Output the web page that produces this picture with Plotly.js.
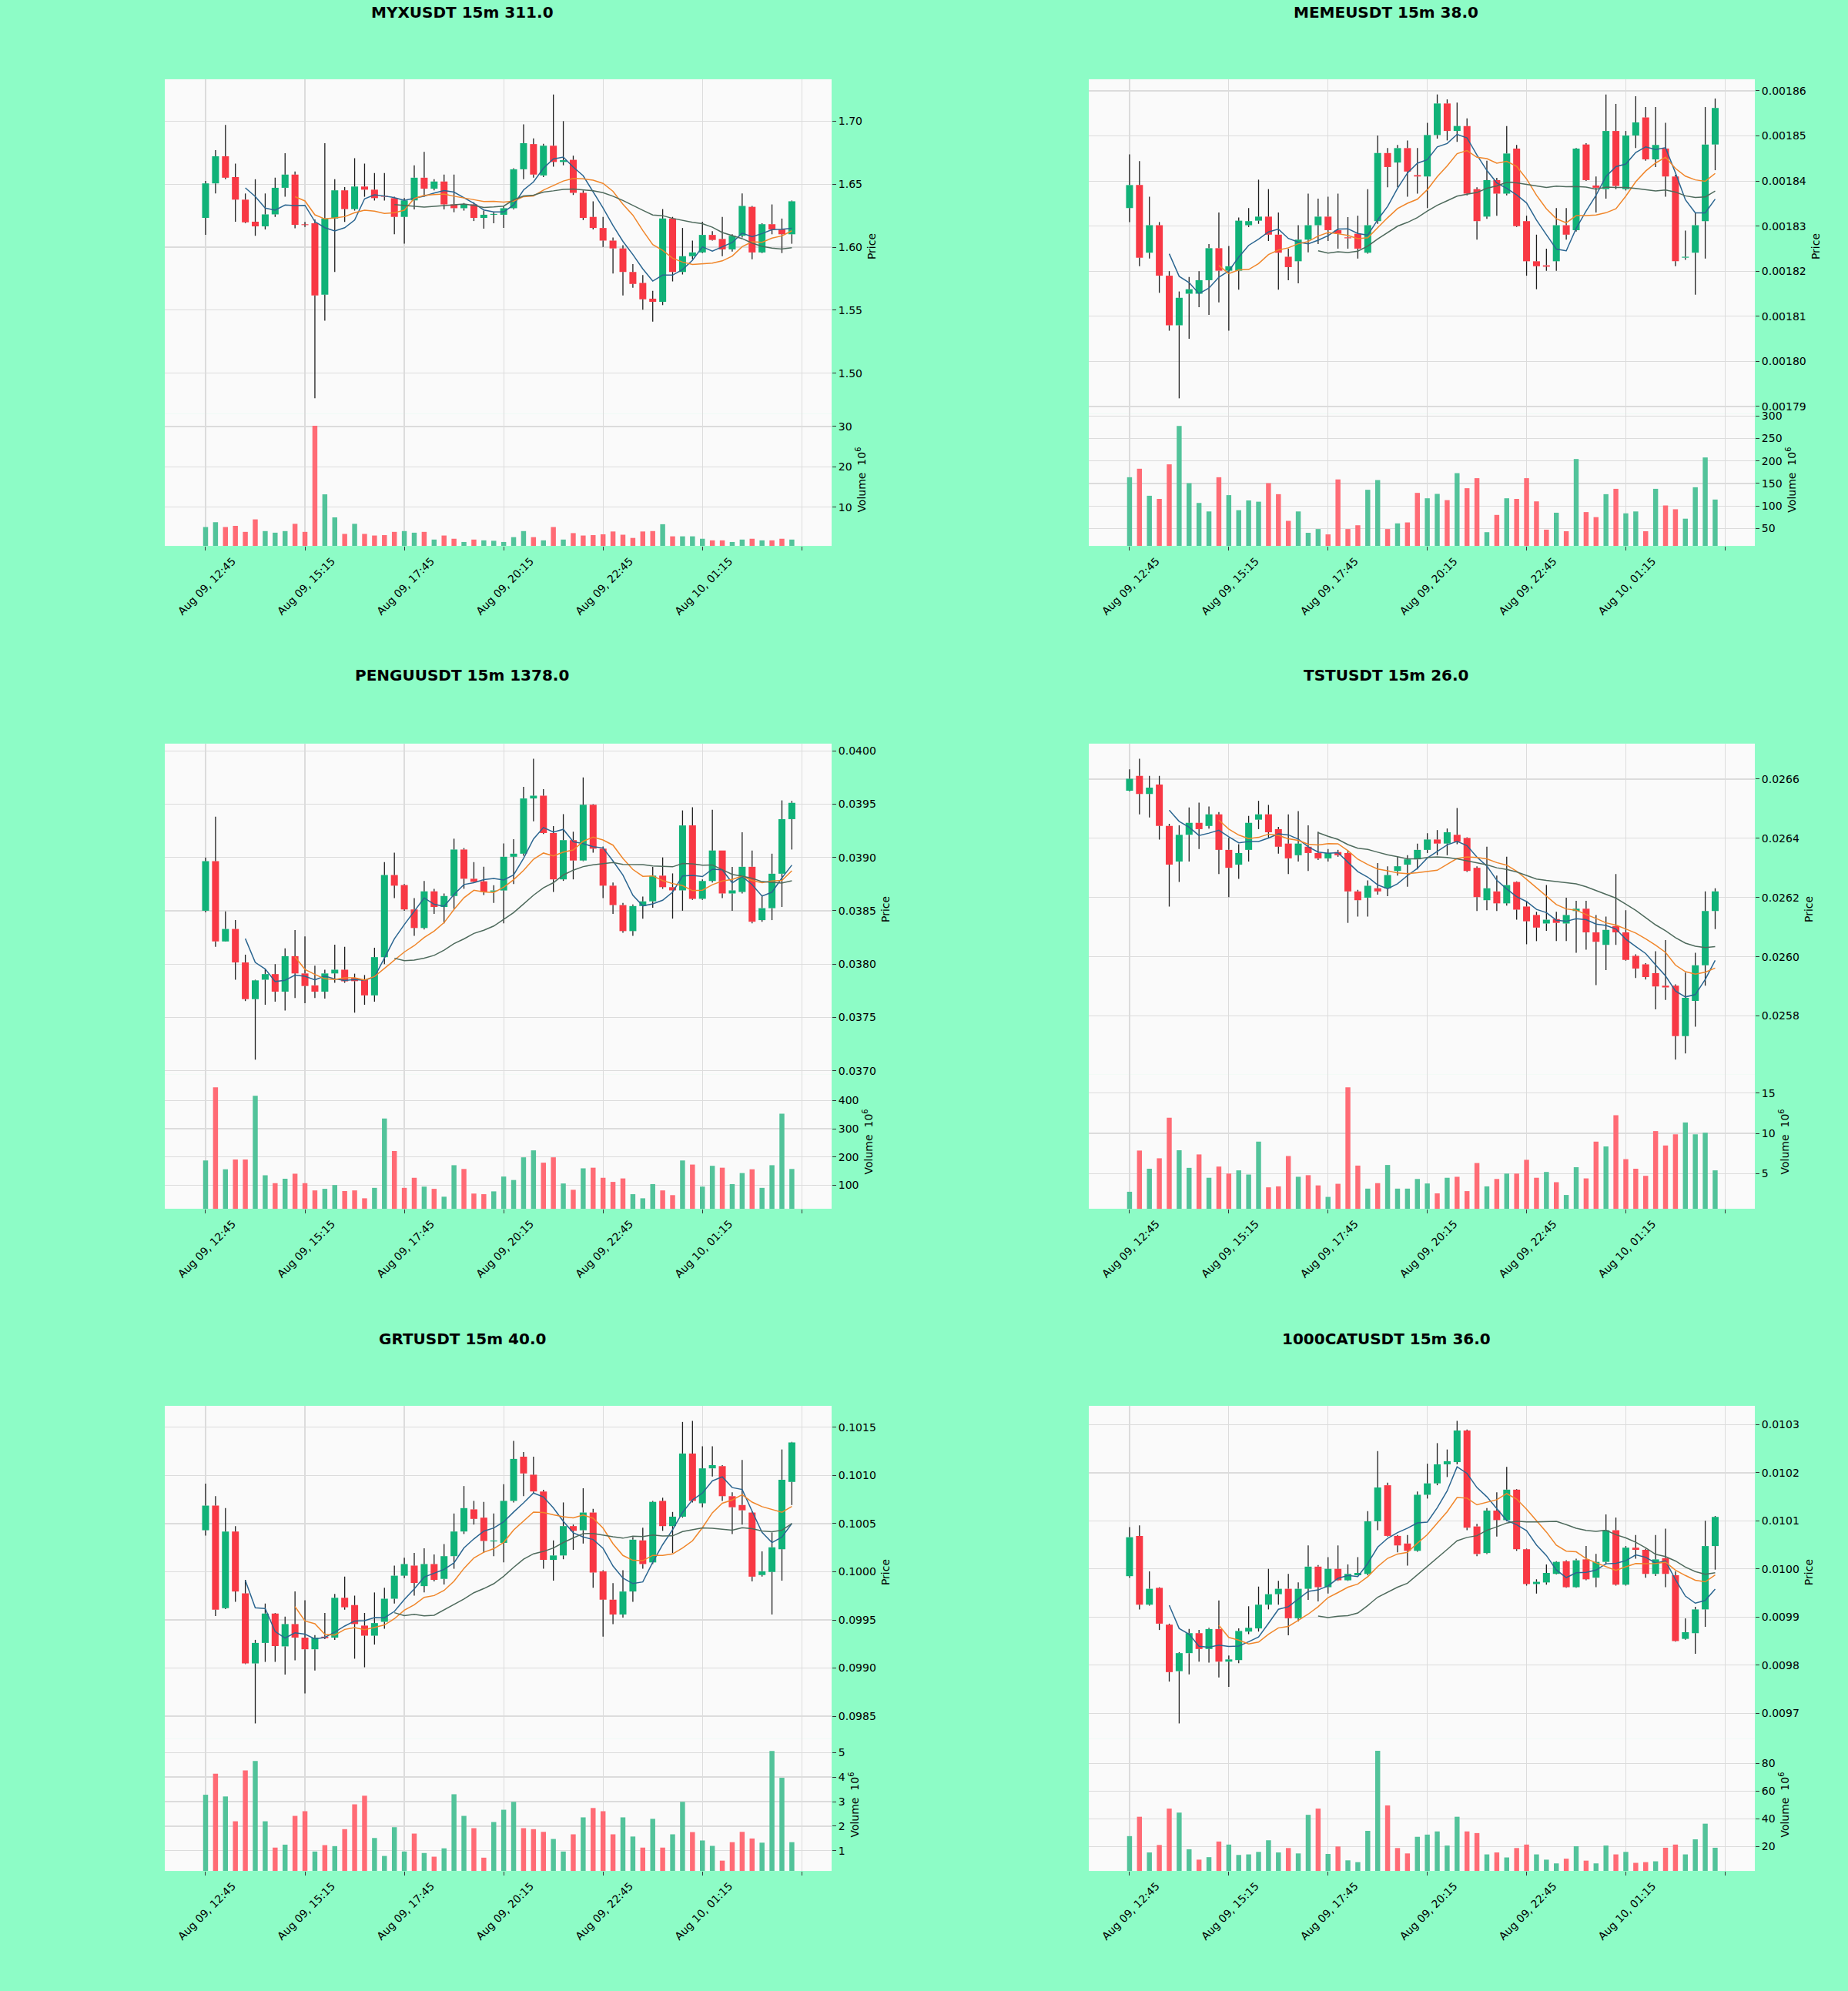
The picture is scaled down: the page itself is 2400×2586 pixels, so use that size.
<!DOCTYPE html>
<html>
<head>
<meta charset="utf-8">
<script src="https://cdn.plot.ly/plotly-3.0.1.min.js"></script>
<style>
html,body{margin:0;padding:0;background:#8dfcc6;}
#chart{width:2400px;height:2586px;}
</style>
</head>
<body>
<div id="chart"></div>
<script>
// ---------- shared x-axis data ----------
const tickLabels = ['Aug 09, 12:45','Aug 09, 15:15','Aug 09, 17:45','Aug 09, 20:15','Aug 09, 22:45','Aug 10, 01:15'];
const tickIndex = [0,10,20,30,40,50];
const extraTickIndex = [60];
const maPeriods = [5,10,20];

// ---------- MYXUSDT ----------
const myxTitle = 'MYXUSDT 15m 311.0';
const myxOpen = [1.6232,1.6506,1.6721,1.6556,1.6377,1.6202,1.6165,1.6260,1.6471,1.6576,
1.6180,1.6190,1.5623,1.6227,1.6451,1.6302,1.6481,1.6456,1.6405,1.6389,
1.6240,1.6371,1.6551,1.6464,1.6521,1.6339,1.6309,1.6339,1.6232,1.6257,
1.6257,1.6309,1.6618,1.6818,1.6569,1.6805,1.6676,1.6693,1.6431,1.6240,
1.6152,1.6052,1.5990,1.5803,1.5716,1.5591,1.5566,1.6227,1.5803,1.5928,
1.5958,1.6097,1.6065,1.5982,1.6090,1.6320,1.5958,1.6182,1.6140,1.6102];
const myxHigh = [1.6526,1.6770,1.6970,1.6663,1.6426,1.6539,1.6426,1.6551,1.6746,1.6600,
1.6200,1.6220,1.6825,1.6539,1.6476,1.6706,1.6663,1.6588,1.6588,1.6400,
1.6390,1.6650,1.6756,1.6539,1.6576,1.6576,1.6350,1.6356,1.6290,1.6277,
1.6330,1.6626,1.6975,1.6863,1.6820,1.7212,1.7000,1.6726,1.6450,1.6364,
1.6240,1.6077,1.6015,1.5865,1.5778,1.5653,1.6302,1.6240,1.6152,1.6052,
1.6202,1.6127,1.6240,1.6102,1.6426,1.6327,1.6190,1.6339,1.6227,1.6370];
const myxLow = [1.6097,1.6426,1.6539,1.6202,1.6190,1.6090,1.6140,1.6240,1.6400,1.6150,
1.6160,1.4800,1.5416,1.5803,1.6200,1.6290,1.6400,1.6370,1.6370,1.6102,
1.6027,1.6300,1.6400,1.6450,1.6300,1.6277,1.6290,1.6207,1.6147,1.6190,
1.6152,1.6300,1.6539,1.6551,1.6556,1.6638,1.6650,1.6414,1.6215,1.6140,
1.6002,1.5790,1.5616,1.5678,1.5504,1.5409,1.5540,1.5728,1.5783,1.5903,
1.5953,1.6052,1.5928,1.5965,1.6077,1.5903,1.5953,1.6102,1.5953,1.6027];
const myxClose = [1.6506,1.6721,1.6551,1.6377,1.6197,1.6165,1.6260,1.6471,1.6576,1.6177,
1.6175,1.5616,1.6227,1.6451,1.6302,1.6481,1.6456,1.6389,1.6400,1.6240,
1.6371,1.6551,1.6464,1.6521,1.6339,1.6309,1.6339,1.6232,1.6257,1.6260,
1.6309,1.6618,1.6825,1.6576,1.6805,1.6676,1.6690,1.6431,1.6232,1.6152,
1.6052,1.5990,1.5803,1.5708,1.5586,1.5566,1.6227,1.5803,1.5928,1.5958,
1.6097,1.6057,1.5982,1.6090,1.6327,1.5958,1.6182,1.6140,1.6102,1.6364];
const myxVolume = [5.1,6.3,5.1,5.4,3.9,7.0,4.1,3.7,4.1,5.9,
3.9,30.2,13.2,7.5,3.4,5.9,3.4,3.0,3.1,3.9,
4.1,3.7,3.9,2.0,3.0,2.2,1.4,2.0,1.8,1.7,
1.4,2.6,4.1,2.6,1.8,5.1,2.0,3.6,3.0,3.1,
3.3,4.0,3.2,2.4,4.0,4.1,5.8,2.8,2.8,2.8,
2.2,1.8,1.8,1.4,2.0,2.2,1.8,1.8,2.2,2.0];

// ---------- MEMEUSDT ----------
const memeTitle = 'MEMEUSDT 15m 38.0';
const memeOpen = [0.0018340,0.0018391,0.0018241,0.0018302,0.0018190,0.0018080,0.0018150,0.0018150,0.0018180,0.0018251,
0.0018201,0.0018201,0.0018302,0.0018312,0.0018321,0.0018281,0.0018232,0.0018222,0.0018270,0.0018302,
0.0018321,0.0018291,0.0018275,0.0018283,0.0018241,0.0018311,0.0018462,0.0018441,0.0018473,0.0018413,
0.0018410,0.0018502,0.0018572,0.0018511,0.0018522,0.0018382,0.0018321,0.0018402,0.0018372,0.0018472,
0.0018311,0.0018222,0.0018213,0.0018222,0.0018302,0.0018291,0.0018481,0.0018390,0.0018382,0.0018511,
0.0018382,0.0018501,0.0018541,0.0018448,0.0018472,0.0018410,0.0018230,0.0018241,0.0018311,0.0018481];
const memeHigh = [0.0018459,0.0018444,0.0018365,0.0018309,0.0018200,0.0018155,0.0018187,0.0018200,0.0018260,0.0018330,
0.0018256,0.0018319,0.0018340,0.0018403,0.0018382,0.0018330,0.0018250,0.0018302,0.0018372,0.0018361,
0.0018365,0.0018372,0.0018320,0.0018323,0.0018382,0.0018501,0.0018473,0.0018480,0.0018490,0.0018473,
0.0018529,0.0018592,0.0018581,0.0018574,0.0018539,0.0018386,0.0018445,0.0018407,0.0018522,0.0018480,
0.0018323,0.0018281,0.0018250,0.0018340,0.0018340,0.0018473,0.0018484,0.0018410,0.0018592,0.0018571,
0.0018511,0.0018588,0.0018564,0.0018564,0.0018529,0.0018414,0.0018290,0.0018330,0.0018564,0.0018583];
const memeLow = [0.0018309,0.0018211,0.0018228,0.0018152,0.0018068,0.0017918,0.0018050,0.0018120,0.0018103,0.0018131,
0.0018068,0.0018159,0.0018298,0.0018305,0.0018267,0.0018159,0.0018180,0.0018173,0.0018242,0.0018260,
0.0018267,0.0018250,0.0018250,0.0018228,0.0018239,0.0018305,0.0018386,0.0018386,0.0018365,0.0018372,
0.0018340,0.0018494,0.0018490,0.0018487,0.0018368,0.0018270,0.0018316,0.0018323,0.0018368,0.0018298,
0.0018190,0.0018160,0.0018201,0.0018201,0.0018270,0.0018288,0.0018400,0.0018330,0.0018361,0.0018382,
0.0018379,0.0018473,0.0018445,0.0018431,0.0018365,0.0018211,0.0018225,0.0018148,0.0018228,0.0018424];
const memeClose = [0.0018391,0.0018230,0.0018302,0.0018190,0.0018080,0.0018141,0.0018160,0.0018180,0.0018251,0.0018201,
0.0018211,0.0018312,0.0018311,0.0018321,0.0018281,0.0018241,0.0018209,0.0018270,0.0018302,0.0018321,
0.0018291,0.0018283,0.0018273,0.0018250,0.0018302,0.0018462,0.0018431,0.0018473,0.0018421,0.0018410,
0.0018502,0.0018572,0.0018511,0.0018522,0.0018372,0.0018311,0.0018402,0.0018372,0.0018461,0.0018300,
0.0018222,0.0018211,0.0018210,0.0018302,0.0018281,0.0018472,0.0018402,0.0018385,0.0018511,0.0018389,
0.0018501,0.0018530,0.0018448,0.0018480,0.0018410,0.0018222,0.0018232,0.0018302,0.0018481,0.0018562];
const memeVolume = [163.8,182.7,122.6,115.6,192.5,277.7,150.6,106.6,87.7,163.8,
124.0,90.5,112.2,109.4,150.6,126.1,66.8,87.7,40.2,48.6,
36.7,158.9,48.6,57.0,135.9,157.5,48.6,61.2,63.3,129.0,
117.0,126.8,112.9,172.9,139.4,161.7,41.6,80.0,117.0,115.6,
161.7,110.1,47.2,84.9,43.7,204.3,86.3,75.1,126.1,138.0,
83.5,87.7,43.7,138.0,101.0,92.6,71.6,141.5,207.8,114.2];

// ---------- PENGUUSDT ----------
const penguTitle = 'PENGUUSDT 15m 1378.0';
const penguOpen = [0.038500,0.038965,0.038212,0.038329,0.038015,0.037671,0.037853,0.037906,0.037741,0.038074,
0.037912,0.037800,0.037741,0.037912,0.037947,0.037870,0.037853,0.037706,0.038065,0.038835,
0.038741,0.038512,0.038338,0.038682,0.038535,0.038638,0.039074,0.038800,0.038776,0.038680,
0.038690,0.039006,0.039035,0.039553,0.039579,0.039229,0.038794,0.039162,0.038971,0.039494,
0.039082,0.038735,0.038553,0.038309,0.038544,0.038588,0.038829,0.038721,0.038691,0.039300,
0.038612,0.038779,0.039065,0.038662,0.038676,0.038912,0.038412,0.038524,0.038847,0.039359];
const penguHigh = [0.039000,0.039382,0.038494,0.038412,0.038088,0.037853,0.037950,0.038000,0.038147,0.038318,
0.038259,0.037985,0.037947,0.038182,0.038162,0.037910,0.037897,0.038153,0.038956,0.039044,
0.038750,0.038618,0.038779,0.038706,0.038662,0.039176,0.039088,0.038956,0.038912,0.038740,
0.039132,0.039171,0.039662,0.039926,0.039641,0.039294,0.039406,0.039241,0.039750,0.039500,
0.039103,0.038765,0.038574,0.038559,0.038632,0.038910,0.039000,0.038850,0.039441,0.039471,
0.038794,0.039447,0.039065,0.038910,0.039235,0.039065,0.038647,0.039035,0.039535,0.039530];
const penguLow = [0.038485,0.038162,0.038210,0.037853,0.037653,0.037103,0.037618,0.037647,0.037565,0.037682,
0.037632,0.037682,0.037676,0.037824,0.037824,0.037544,0.037618,0.037647,0.038000,0.038618,
0.038500,0.038265,0.038324,0.038471,0.038382,0.038515,0.038706,0.038765,0.038647,0.038574,
0.038382,0.038750,0.039015,0.039338,0.039220,0.038676,0.038780,0.038794,0.038965,0.039044,
0.038618,0.038471,0.038294,0.038265,0.038426,0.038529,0.038706,0.038426,0.038500,0.038603,
0.038603,0.038765,0.038618,0.038500,0.038662,0.038382,0.038397,0.038412,0.038535,0.039074];
const penguClose = [0.038965,0.038212,0.038329,0.038015,0.037671,0.037847,0.037906,0.037741,0.038074,0.037912,
0.037794,0.037741,0.037912,0.037947,0.037838,0.037840,0.037706,0.038065,0.038835,0.038735,
0.038512,0.038338,0.038682,0.038535,0.038638,0.039074,0.038800,0.038771,0.038676,0.038690,
0.039006,0.039035,0.039553,0.039579,0.039229,0.038794,0.039162,0.038971,0.039494,0.039082,
0.038735,0.038553,0.038309,0.038544,0.038588,0.038829,0.038721,0.038691,0.039300,0.038612,
0.038779,0.039065,0.038662,0.038691,0.038912,0.038397,0.038524,0.038847,0.039359,0.039512];
const penguVolume = [187.3,447.0,156.0,190.7,190.7,416.9,134.7,106.7,122.4,140.3,
106.7,81.0,86.6,100.0,78.7,81.0,53.0,90.0,336.3,220.9,
90.0,125.8,94.4,86.6,58.6,170.5,157.1,69.8,67.6,77.6,
130.2,117.9,198.5,223.2,179.5,198.5,105.6,83.2,159.4,161.6,
125.8,111.2,123.5,67.6,53.0,103.4,81.0,64.2,187.3,172.8,
94.4,168.3,161.6,103.4,142.6,156.0,90.0,170.5,353.1,157.1];

// ---------- TSTUSDT ----------
const tstTitle = 'TSTUSDT 15m 26.0';
const tstOpen = [0.0265607,0.0266106,0.0265500,0.0265819,0.0264417,0.0263216,0.0264119,0.0264523,0.0264417,0.0264810,
0.0263609,0.0263109,0.0263609,0.0264629,0.0264810,0.0264310,0.0263822,0.0263428,0.0263715,0.0263503,
0.0263322,0.0263535,0.0263503,0.0262206,0.0261994,0.0262313,0.0262313,0.0262897,0.0263109,0.0263290,
0.0263609,0.0263960,0.0263822,0.0264119,0.0264013,0.0263003,0.0261909,0.0262206,0.0261802,0.0262525,
0.0261696,0.0261410,0.0261122,0.0261271,0.0261122,0.0261547,0.0261622,0.0260825,0.0260399,0.0261037,
0.0260825,0.0260027,0.0259741,0.0259443,0.0259018,0.0259018,0.0257318,0.0258508,0.0259709,0.0261547];
const tstHigh = [0.0266329,0.0266690,0.0266106,0.0266106,0.0264490,0.0264438,0.0265044,0.0265203,0.0265075,0.0264884,
0.0264013,0.0263800,0.0264757,0.0265267,0.0265129,0.0264385,0.0264810,0.0264916,0.0264438,0.0264225,
0.0263640,0.0263610,0.0263588,0.0262260,0.0262578,0.0263162,0.0263056,0.0263375,0.0263428,0.0263822,
0.0264172,0.0264278,0.0264332,0.0265022,0.0264034,0.0263056,0.0263715,0.0262738,0.0263375,0.0262546,
0.0261887,0.0261516,0.0262419,0.0261516,0.0261994,0.0261887,0.0261887,0.0261410,0.0261356,0.0262791,
0.0261568,0.0260080,0.0259783,0.0260187,0.0260560,0.0259070,0.0259464,0.0260134,0.0262206,0.0262313];
const tstLow = [0.0265586,0.0264810,0.0264704,0.0263960,0.0261696,0.0262525,0.0263216,0.0263640,0.0264330,0.0262791,
0.0262015,0.0262630,0.0263216,0.0264310,0.0264013,0.0263481,0.0262791,0.0263216,0.0262897,0.0263270,
0.0263216,0.0263375,0.0261143,0.0261356,0.0261356,0.0262100,0.0262047,0.0262738,0.0262366,0.0262950,
0.0263503,0.0263428,0.0263428,0.0263800,0.0262865,0.0261547,0.0261568,0.0261547,0.0261728,0.0261250,
0.0260421,0.0260527,0.0260877,0.0260527,0.0260527,0.0260134,0.0260240,0.0259039,0.0259549,0.0260399,
0.0259868,0.0259284,0.0259231,0.0258221,0.0258539,0.0256521,0.0256733,0.0257637,0.0259018,0.0260930];
const tstClose = [0.0266011,0.0265500,0.0265713,0.0264417,0.0263109,0.0264119,0.0264523,0.0264310,0.0264810,0.0263609,
0.0263003,0.0263503,0.0264523,0.0264810,0.0264204,0.0263715,0.0263322,0.0263822,0.0263503,0.0263322,
0.0263503,0.0263428,0.0262206,0.0261909,0.0262397,0.0262206,0.0262759,0.0263056,0.0263290,0.0263609,
0.0263960,0.0263822,0.0264204,0.0263885,0.0262897,0.0262015,0.0262313,0.0261802,0.0262419,0.0261590,
0.0261197,0.0260984,0.0261250,0.0261143,0.0261410,0.0261622,0.0260825,0.0260506,0.0260910,0.0260825,
0.0259890,0.0259603,0.0259316,0.0258997,0.0258965,0.0257318,0.0258614,0.0259709,0.0261547,0.0262206];
const tstVolume = [2.74,7.86,5.6,6.9,11.94,7.9,5.71,7.38,4.48,5.87,
5.0,5.4,4.88,8.97,3.29,3.41,7.18,4.6,4.8,3.53,
2.1,3.73,15.71,5.99,3.13,3.81,6.07,3.13,3.13,4.33,
3.77,2.54,4.48,4.6,2.82,6.31,3.41,4.33,5.0,5.0,
6.71,4.48,5.2,3.93,2.34,5.79,4.4,8.97,8.37,12.26,
6.79,5.6,4.72,10.28,8.49,9.88,11.35,9.88,10.08,5.4];

// ---------- GRTUSDT ----------
const grtTitle = 'GRTUSDT 15m 40.0';
const grtOpen = [0.100431,0.100687,0.099621,0.100418,0.099775,0.099048,0.099261,0.099566,0.099225,0.099457,
0.099316,0.099195,0.099326,0.099316,0.099730,0.099654,0.099441,0.099336,0.099480,0.099720,
0.099959,0.100064,0.099851,0.100080,0.099926,0.100162,0.100418,0.100648,0.100562,0.100315,
0.100300,0.100736,0.101195,0.101008,0.100834,0.100123,0.100169,0.100474,0.100431,0.100615,
0.100005,0.099710,0.099556,0.099795,0.100326,0.100097,0.100736,0.100474,0.100572,0.101228,
0.100711,0.101074,0.101097,0.100785,0.100693,0.100615,0.099966,0.099998,0.100234,0.100933];
const grtHigh = [0.100916,0.100785,0.100661,0.100474,0.099916,0.099293,0.099670,0.099572,0.099533,0.099795,
0.099703,0.099343,0.099572,0.099770,0.099949,0.099752,0.099572,0.099785,0.099834,0.100064,
0.100146,0.100195,0.100244,0.100179,0.100287,0.100605,0.100890,0.100736,0.100726,0.100605,
0.100910,0.101359,0.101244,0.101195,0.100851,0.100326,0.100720,0.100490,0.100867,0.100654,
0.100015,0.099882,0.100015,0.100359,0.100457,0.100736,0.100769,0.100621,0.101556,0.101566,
0.101303,0.101303,0.101107,0.100825,0.101162,0.100628,0.100211,0.100408,0.101270,0.101349];
const grtLow = [0.100375,0.099539,0.099611,0.099687,0.099041,0.098425,0.099064,0.099064,0.098933,0.099080,
0.098736,0.098975,0.099300,0.099293,0.099605,0.099097,0.099008,0.099244,0.099408,0.099670,
0.099933,0.099752,0.099785,0.099900,0.099867,0.100031,0.100392,0.100490,0.100195,0.100162,
0.100097,0.100720,0.100785,0.100818,0.100031,0.099908,0.100130,0.100228,0.100293,0.099834,
0.099326,0.099457,0.099523,0.099687,0.100031,0.100080,0.100425,0.100195,0.100562,0.100720,
0.100670,0.100989,0.100736,0.100392,0.100490,0.099900,0.099949,0.099556,0.099907,0.100693];
const grtClose = [0.100687,0.099605,0.100418,0.099795,0.099048,0.099261,0.099566,0.099228,0.099457,0.099316,
0.099195,0.099316,0.099310,0.099730,0.099631,0.099457,0.099336,0.099467,0.099720,0.099959,
0.100080,0.099884,0.100080,0.099916,0.100162,0.100418,0.100661,0.100549,0.100320,0.100325,
0.100736,0.101172,0.101021,0.100834,0.100123,0.100169,0.100474,0.100425,0.100615,0.099992,
0.099710,0.099556,0.099795,0.100333,0.100080,0.100726,0.100474,0.100572,0.101228,0.100736,
0.101074,0.101107,0.100785,0.100670,0.100638,0.099949,0.100005,0.100254,0.100956,0.101343];
const grtVolume = [3.28,4.14,3.21,2.2,4.27,4.65,2.2,1.13,1.25,2.42,
2.61,0.97,1.23,1.19,1.88,2.89,3.24,1.52,0.79,1.96,
0.97,1.70,0.91,0.76,1.1,3.3,2.42,1.92,0.72,2.17,
2.67,2.99,1.92,1.88,1.77,1.48,0.97,1.67,2.36,2.74,
2.61,1.67,2.36,1.58,1.13,2.30,1.13,1.67,2.99,1.76,
1.42,1.20,0.60,1.35,1.77,1.50,1.33,5.06,3.97,1.35];

// ---------- 1000CATUSDT ----------
const catTitle = '1000CATUSDT 15m 36.0';
const catOpen = [0.0099851,0.0100688,0.0099258,0.0099608,0.0098843,0.0097875,0.0098250,0.0098665,0.0098336,0.0098751,
0.0098073,0.0098105,0.0098698,0.0098764,0.0099258,0.0099476,0.0099588,0.0098975,0.0099588,0.0100049,
0.0099621,0.0100003,0.0099765,0.0099870,0.0099898,0.0100991,0.0101742,0.0100688,0.0100530,0.0100378,
0.0101544,0.0101781,0.0102177,0.0102223,0.0102881,0.0100885,0.0100332,0.0101215,0.0101017,0.0101650,
0.0100411,0.0099687,0.0099720,0.0099898,0.0100161,0.0099621,0.0100200,0.0099819,0.0100148,0.0100807,
0.0099674,0.0100444,0.0100398,0.0099898,0.0100227,0.0099871,0.0098547,0.0098665,0.0099159,0.0100477];
const catHigh = [0.0100872,0.0100905,0.0099950,0.0099621,0.0098863,0.0098270,0.0098751,0.0098731,0.0098777,0.0099344,
0.0098200,0.0098764,0.0099225,0.0099634,0.0100003,0.0099753,0.0099898,0.0099720,0.0100490,0.0100082,
0.0100247,0.0100490,0.0100096,0.0100247,0.0101202,0.0102453,0.0101794,0.0100708,0.0100708,0.0101610,
0.0102190,0.0102618,0.0102486,0.0103079,0.0102901,0.0100938,0.0101267,0.0101597,0.0102124,0.0101663,
0.0100424,0.0099786,0.0100096,0.0100161,0.0100181,0.0100214,0.0100477,0.0100313,0.0101136,0.0101070,
0.0100477,0.0100708,0.0100424,0.0100708,0.0100840,0.0099950,0.0098975,0.0099212,0.0101004,0.0101103];
const catLow = [0.0099819,0.0099159,0.0099239,0.0098731,0.0097658,0.0096788,0.0097809,0.0098073,0.0098053,0.0097743,
0.0097546,0.0098040,0.0098645,0.0098698,0.0099159,0.0099258,0.0098619,0.0098909,0.0099357,0.0099324,
0.0099489,0.0099752,0.0099752,0.0099865,0.0099870,0.0100806,0.0100675,0.0100345,0.0100069,0.0100358,
0.0101465,0.0101742,0.0101913,0.0102177,0.0100806,0.0100266,0.0100312,0.0100675,0.0100991,0.0100378,
0.0099654,0.0099489,0.0099674,0.0099885,0.0099608,0.0099608,0.0099765,0.0099621,0.0100095,0.0099654,
0.0099654,0.0100214,0.0099819,0.0099852,0.0099621,0.0098487,0.0098527,0.0098237,0.0098797,0.0099987];
const catClose = [0.0100661,0.0099258,0.0099588,0.0098863,0.0097855,0.0098250,0.0098665,0.0098336,0.0098751,0.0098073,
0.0098119,0.0098711,0.0098777,0.0099258,0.0099476,0.0099588,0.0098975,0.0099588,0.0100049,0.0099621,
0.0100003,0.0099765,0.0099898,0.0099918,0.0100991,0.0101696,0.0100688,0.0100490,0.0100378,0.0101544,
0.0101781,0.0102177,0.0102242,0.0102881,0.0100859,0.0100312,0.0101215,0.0101017,0.0101650,0.0100411,
0.0099687,0.0099733,0.0099918,0.0100148,0.0099621,0.0100181,0.0099785,0.0100148,0.0100807,0.0099674,
0.0100444,0.0100398,0.0099898,0.0100200,0.0099898,0.0098501,0.0098685,0.0099159,0.0100477,0.0101083];
const catVolume = [27.5,41.5,15.7,21.1,47.4,44.5,18.0,10.5,12.3,23.6,
21.4,13.9,14.3,16.1,24.5,15.7,18.9,15.0,42.9,47.4,
14.6,20.0,10.0,8.7,31.3,89.1,49.7,18.9,15.0,27.0,
28.6,30.9,20.7,41.5,30.9,29.7,14.3,15.7,12.1,18.9,
21.4,14.3,10.5,7.8,11.2,20.2,9.8,7.8,20.7,14.3,
16.1,8.2,8.7,9.3,19.1,21.4,14.3,25.2,36.5,19.1];

// ---------- chart configs (built from the arrays above) ----------
const charts = [
  {title: myxTitle, o: myxOpen, h: myxHigh, l: myxLow, c: myxClose, v: myxVolume, fmt: '.2f', dtick: 0.05, vdtick: 10},
  {title: memeTitle, o: memeOpen, h: memeHigh, l: memeLow, c: memeClose, v: memeVolume, fmt: '.5f', dtick: 0.00001, vdtick: 50},
  {title: penguTitle, o: penguOpen, h: penguHigh, l: penguLow, c: penguClose, v: penguVolume, fmt: '.4f', dtick: 0.0005, vdtick: 100},
  {title: tstTitle, o: tstOpen, h: tstHigh, l: tstLow, c: tstClose, v: tstVolume, fmt: '.4f', dtick: 0.0002, vdtick: 5},
  {title: grtTitle, o: grtOpen, h: grtHigh, l: grtLow, c: grtClose, v: grtVolume, fmt: '.4f', dtick: 0.0005, vdtick: 1},
  {title: catTitle, o: catOpen, h: catHigh, l: catLow, c: catClose, v: catVolume, fmt: '.4f', dtick: 0.0001, vdtick: 20}
];

// ---------- styling ----------
const UP = '#10b278', DOWN = '#f83844';
const VUP = '#52c39a', VDOWN = '#ff6b75';
const WICK = '#1e1e1e';
const MA_COLORS = ['#2a6590', '#f0862a', '#4e6a5c'];
const GRID = '#dcdcdc';
const FONT = {family: 'DejaVu Sans', size: 14, color: '#000000'};

const colX = [[0.0892, 0.4500], [0.5892, 0.9496]];
const rowY = [
  {price: [0.7923, 0.9602], vol: [0.7258, 0.7923], title: 0.9938},
  {price: [0.4602, 0.6265], vol: [0.3929, 0.4602], title: 0.6609},
  {price: [0.1268, 0.2939], vol: [0.0603, 0.1268], title: 0.3275}
];

function sma(arr, n) {
  return arr.map((_, i) => {
    if (i < n - 1) return null;
    let s = 0;
    for (let j = i - n + 1; j <= i; j++) s += arr[j];
    return s / n;
  });
}

const traces = [];
const layout = {
  width: 2400, height: 2586,
  margin: {l: 0, r: 0, t: 0, b: 0},
  paper_bgcolor: '#8dfcc6',
  plot_bgcolor: '#fafafa',
  showlegend: false,
  font: FONT,
  annotations: []
};

charts.forEach((ch, k) => {
  const row = Math.floor(k / 2), col = k % 2;
  const n = ch.c.length;
  const idx = Array.from({length: n}, (_, i) => i);
  const pa = 2 * k + 1, va = 2 * k + 2;
  const xp = 'x' + pa, yp = 'y' + pa, xv = 'x' + va, yv = 'y' + va;

  const lo = Math.min(...ch.l), hi = Math.max(...ch.h);
  const pad = (hi - lo) * 0.05;
  const pRange = [lo - pad, hi + pad];
  const vRange = [0.3 * Math.min(...ch.v), 1.1 * Math.max(...ch.v)];
  const minBody = (pRange[1] - pRange[0]) * 0.0025;

  const up = idx.map(i => ch.c[i] >= ch.o[i]);

  // wicks (drawn outside the body so bodies stay clean)
  const wx = [], wy = [];
  idx.forEach(i => {
    const top = Math.max(ch.o[i], ch.c[i]), bot = Math.min(ch.o[i], ch.c[i]);
    wx.push(i, i, null, i, i, null);
    wy.push(ch.h[i], top, null, bot, ch.l[i], null);
  });
  traces.push({type: 'scatter', mode: 'lines', x: wx, y: wy, xaxis: xp, yaxis: yp,
    line: {color: WICK, width: 1.3}, hoverinfo: 'skip'});

  // bodies
  traces.push({type: 'bar', x: idx,
    y: idx.map(i => Math.max(Math.abs(ch.c[i] - ch.o[i]), minBody)),
    base: idx.map(i => Math.min(ch.o[i], ch.c[i])),
    width: 0.7, xaxis: xp, yaxis: yp,
    marker: {color: idx.map(i => up[i] ? UP : DOWN), line: {width: 0}},
    hoverinfo: 'skip'});

  // moving averages
  maPeriods.forEach((p, m) => {
    traces.push({type: 'scatter', mode: 'lines', x: idx, y: sma(ch.c, p),
      xaxis: xp, yaxis: yp, line: {color: MA_COLORS[m], width: 1.5}, hoverinfo: 'skip'});
  });

  // volume
  traces.push({type: 'bar', x: idx, y: ch.v, width: 0.5, xaxis: xv, yaxis: yv,
    marker: {color: idx.map(i => up[i] ? VUP : VDOWN), line: {width: 0}}, hoverinfo: 'skip'});

  const xr = [-4.1, 63.0];
  const minorX = {tickmode: 'array', tickvals: extraTickIndex, ticks: 'outside', ticklen: 5,
    tickcolor: '#333', showgrid: true, gridcolor: GRID, gridwidth: 1.2};
  layout['xaxis' + pa] = {domain: colX[col], anchor: yp, range: xr, matches: xv,
    tickmode: 'array', tickvals: tickIndex, showticklabels: false, ticks: '',
    minor: Object.assign({}, minorX, {ticks: ''}),
    showgrid: true, gridcolor: GRID, gridwidth: 1.2, zeroline: false, showline: false};
  layout['yaxis' + pa] = {domain: rowY[row].price, anchor: xp, side: 'right', range: pRange,
    tick0: 0, dtick: ch.dtick, tickformat: ch.fmt, ticks: 'outside', ticklen: 5, tickcolor: '#333',
    showgrid: true, gridcolor: GRID, gridwidth: 1.2, zeroline: false, showline: false,
    tickfont: FONT, title: {text: 'Price', font: FONT, standoff: 8}};
  layout['xaxis' + va] = {domain: colX[col], anchor: yv, range: xr,
    tickmode: 'array', tickvals: tickIndex, ticktext: tickLabels, tickangle: -45,
    ticklabelshift: 35, ticks: 'outside', ticklen: 5, tickcolor: '#333',
    minor: minorX,
    showgrid: true, gridcolor: GRID, gridwidth: 1.2, zeroline: false, showline: false, tickfont: FONT};
  layout['yaxis' + va] = {domain: rowY[row].vol, anchor: xv, side: 'right', range: vRange,
    tick0: 0, dtick: ch.vdtick, ticks: 'outside', ticklen: 5, tickcolor: '#333',
    showgrid: true, gridcolor: GRID, gridwidth: 1.2, zeroline: false, showline: false,
    tickfont: FONT, title: {text: 'Volume  10<sup>6</sup>', font: FONT, standoff: 8}};

  layout.annotations.push({text: '<b>' + ch.title + '</b>', xref: 'paper', yref: 'paper',
    x: col === 0 ? 0.25 : 0.75, y: rowY[row].title, xanchor: 'center', yanchor: 'middle',
    showarrow: false, font: {family: 'DejaVu Sans', size: 20, color: '#000000'}});
});

Plotly.newPlot('chart', traces, layout, {staticPlot: true, displayModeBar: false});
</script>
</body>
</html>
